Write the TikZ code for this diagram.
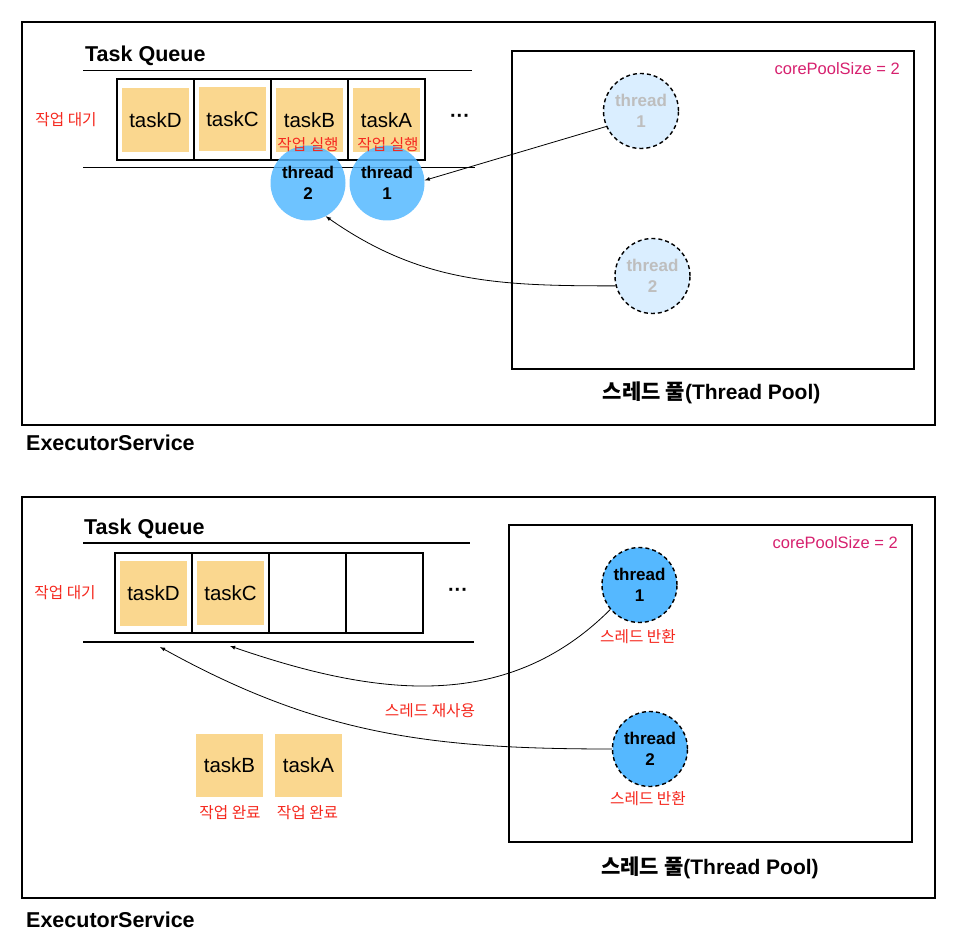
\documentclass[tikz,border=0pt]{standalone}
\usepackage{fontspec}
\setmainfont{Liberation Sans}
\newfontfamily\kr{Noto Sans CJK KR}
\usepackage{tikz}
\usetikzlibrary{positioning}
\definecolor{taskorange}{RGB}{250,215,143}
\definecolor{threadblue}{RGB}{85,184,255}
\definecolor{idleblue}{RGB}{218,238,255}
\definecolor{idlegray}{RGB}{190,190,190}
\definecolor{notered}{RGB}{245,40,30}
\definecolor{poolpink}{RGB}{214,32,110}

\begin{document}
\begin{tikzpicture}[x=1pt,y=1pt]
\tikzstyle{frame}=[line width=1.6pt]
\tikzstyle{cell}=[draw,line width=1.6pt,minimum width=77pt,minimum height=81pt,inner sep=0pt]
\tikzstyle{task}=[fill=taskorange,minimum width=67pt,minimum height=64pt,inner sep=0pt,font=\fontsize{20.5}{24}\selectfont]
\tikzstyle{thread}=[circle,fill=threadblue,minimum size=75pt,inner sep=0pt,align=center,font=\bfseries\fontsize{17}{21}\selectfont]
\tikzstyle{idle}=[thread,fill=idleblue,text=idlegray,draw,dash pattern=on 4pt off 3pt,line width=1.4pt]
\tikzstyle{back}=[thread,draw,dash pattern=on 4pt off 3pt,line width=1.4pt]
\tikzstyle{note}=[text=notered,inner sep=0pt,font=\kr\fontsize{15.7}{18}\selectfont]
\tikzstyle{size}=[text=poolpink,inner sep=0pt,anchor=east,font=\fontsize{16.5}{20}\selectfont]
\tikzstyle{title}=[inner sep=0pt,font=\bfseries\fontsize{21.5}{25}\selectfont]
\tikzstyle{pool}=[inner sep=0pt,font=\bfseries\fontsize{21}{25}\selectfont]
\tikzstyle{more}=[inner sep=0pt,font=\bfseries\fontsize{20}{22}\selectfont]
\tikzstyle{flow}=[-latex,line width=.8pt]
\useasboundingbox (0,0) rectangle (954,-949);

% ---- before: tasks A and B running ----
\draw[frame] (22,-22) rectangle (935,-425);
\node[title,anchor=base west] (exec1) at (26,-450.7) {ExecutorService};
\node[title,anchor=base west] (queue1) at (85,-62) {Task Queue};
\draw[frame] (83,-70.5) -- (472,-70.5);
\draw[frame] (83,-167.5) -- (475,-167.5);
\node[cell] (tq1) at (155.5,-119.5) {};
\node[cell] (tq2) at (232.5,-119.5) {};
\node[cell] (tq3) at (309.5,-119.5) {};
\node[cell] (tq4) at (386.5,-119.5) {};
\node[task] (tD) at (155.5,-120) {taskD};
\node[task] (tC) at (232.5,-119) {taskC};
\node[task] (tB) at (309.5,-120) {taskB};
\node[task] (tA) at (386.5,-120) {taskA};
\node[note] (wait1) at (66,-120) {작업 대기};
\node[more] (dots1) at (460,-118) {···};
\node[thread,fill opacity=.85,text opacity=1] (run2) at (308,-183) {thread\\2};
\node[thread,fill opacity=.85,text opacity=1] (run1) at (387,-183) {thread\\1};
\node[note] (exB) at (308,-144.7) {작업 실행};
\node[note] (exA) at (388,-144.7) {작업 실행};

\draw[frame] (512,-51) rectangle (914,-369);
\node[size] (core1) at (900,-69) {corePoolSize = 2};
\node[idle] (idle1) at (641,-111) {thread\\1};
\node[idle] (idle2) at (652.5,-276) {thread\\2};
\node[pool] (name1) at (711.7,-393) {{\kr 스레드 풀}(Thread Pool)};

\draw[flow] (idle1.204) -- (run1.4);
\draw[flow] (idle2.195) to[out=180,in=-35] (run2.-62);

% ---- after: threads given back ----
\draw[frame] (22,-497) rectangle (935,-898);
\node[title,anchor=base west] (exec2) at (26,-927) {ExecutorService};
\node[title,anchor=base west] (queue2) at (84,-535) {Task Queue};
\draw[frame] (83,-543) -- (470,-543);
\draw[frame] (83,-641.7) -- (474,-641.7);
\node[cell,minimum height=80pt] (bq1) at (153.5,-593) {};
\node[cell,minimum height=80pt] (bq2) at (230.5,-593) {};
\node[cell,minimum height=80pt] (bq3) at (307.5,-593) {};
\node[cell,minimum height=80pt] (bq4) at (384.5,-593) {};
\node[task] (bD) at (153.5,-593.5) {taskD};
\node[task] (bC) at (230.5,-593) {taskC};
\node[note] (wait2) at (65,-592.7) {작업 대기};
\node[more] (dots2) at (458,-592) {···};

\node[task,minimum height=63pt] (bB) at (229.5,-765.5) {taskB};
\node[task,minimum height=63pt] (bA) at (308.5,-765.5) {taskA};
\node[note] (doneB) at (230,-812.5) {작업 완료};
\node[note] (doneA) at (307.5,-812.5) {작업 완료};

\draw[frame] (509,-525) rectangle (912,-842);
\node[size] (core2) at (898,-543) {corePoolSize = 2};
\node[back] (ret1) at (639.5,-585) {thread\\1};
\node[back] (ret2) at (650,-749) {thread\\2};
\node[note] (give1) at (638,-637) {스레드 반환};
\node[note] (give2) at (648,-799) {스레드 반환};
\node[pool] (name2) at (710,-868) {{\kr 스레드 풀}(Thread Pool)};

\coordinate (slot1) at (160,-647);
\coordinate (slot2) at (230,-646);
\draw[flow] (ret1.220) to[out=225,in=-19] (slot2);
\draw[flow] (ret2.west) to[out=180,in=-29] (slot1);
\node[note] (reuse) at (430,-711) {스레드 재사용};
\end{tikzpicture}
\end{document}
